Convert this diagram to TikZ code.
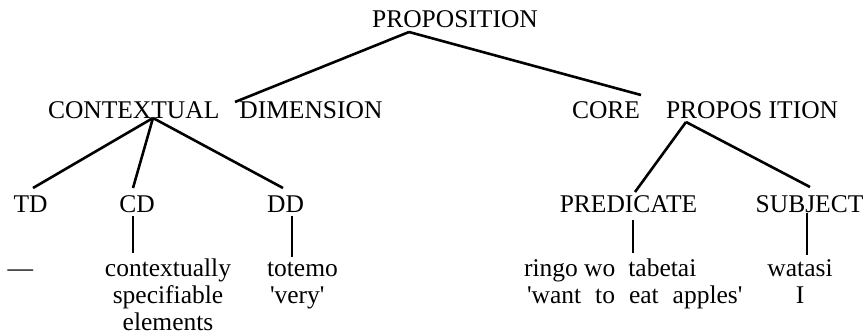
\documentclass[tikz,border=0pt]{standalone}
\usepackage{fontspec}
\setmainfont{Liberation Serif}
\begin{document}
\begin{tikzpicture}[x=1pt,y=-1pt,
  txt/.style={font=\fontsize{25.5}{27}\selectfont, inner sep=0pt, outer sep=0pt},
  branch/.style={line width=2.6pt},
  stem/.style={line width=1.7pt}]
\useasboundingbox (0,0) rectangle (866,334);
% top level
\node[txt, anchor=base] (prop) at (455,28) {PROPOSITION};
\node[txt, anchor=base west] (cdim) at (48,118) {CONTEXTUAL\hspace{20pt}DIMENSION};
\node[txt, anchor=base west] (core) at (572,118) {CORE\hspace{26pt}PROPOS ITION};
% third row
\node[txt, anchor=base] (td) at (30.5,212) {TD};
\node[txt, anchor=base] (cd) at (137,212) {CD};
\node[txt, anchor=base] (dd) at (285.5,212) {DD};
\node[txt, anchor=base] (pred) at (628.5,212) {PREDICATE};
\node[txt, anchor=base] (subj) at (809.5,212) {SUBJECT};
% leaves (base anchor = baseline of the last line)
\node[txt, anchor=base] (dash) at (20.5,276) {—};
\node[txt, anchor=base, align=center] (ctx) at (168,330) {contextually\\specifiable\\elements};
\node[txt, anchor=base west, align=left] (totemo) at (267,303) {totemo\\\hspace{3pt}\textquotesingle very\textquotesingle};
\node[txt, anchor=base west, align=left] (ringo) at (524,303) {ringo wo\hspace{13pt}tabetai\\\hspace{3pt}\textquotesingle want\hspace{14pt}to\hspace{14pt}eat\hspace{14pt}apples\textquotesingle};
\node[txt, anchor=base, align=center] (watasi) at (800,303) {watasi\\I};
% connector end points
\coordinate (propfoot) at (409,32);
\coordinate (cdimtop) at (235,102);
\coordinate (coretop) at (641,95);
\coordinate (cdimfoot) at (153,118);
\coordinate (tdtop) at (33,188);
\coordinate (cdtop) at (133,188);
\coordinate (ddtop) at (283,188);
\coordinate (cpfoot) at (686,122);
\coordinate (predtop) at (635,192);
\coordinate (subjtop) at (810,187);
\coordinate (cdfoot) at (133,216);
\coordinate (ctxtop) at (133,253);
\coordinate (ddfoot) at (292,216);
\coordinate (totemotop) at (292,257);
\coordinate (predfoot) at (633,220);
\coordinate (ringotop) at (633,253);
\coordinate (subjfoot) at (807,213);
\coordinate (watasitop) at (807,255);
% connectors
\draw[branch] (propfoot) -- (cdimtop);
\draw[branch] (propfoot) -- (coretop);
\draw[branch] (cdimfoot) -- (tdtop);
\draw[branch] (cdimfoot) -- (cdtop);
\draw[branch] (cdimfoot) -- (ddtop);
\draw[branch] (cpfoot) -- (predtop);
\draw[branch] (cpfoot) -- (subjtop);
\draw[stem] (cdfoot) -- (ctxtop);
\draw[stem] (ddfoot) -- (totemotop);
\draw[stem] (predfoot) -- (ringotop);
\draw[stem] (subjfoot) -- (watasitop);
\end{tikzpicture}
\end{document}
